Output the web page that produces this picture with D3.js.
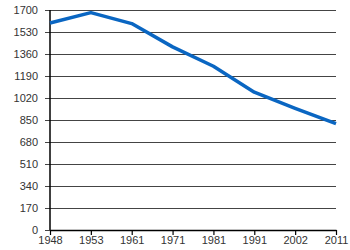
<!DOCTYPE html>
<meta charset="utf-8">
<style>
body {
  margin: 0;
  background: #fff;
}
svg {
  display: block;
}
.axis text {
  fill: #333;
  font-family: "Liberation Sans", Arial, sans-serif;
  font-size: 11px;
}
.line {
  fill: none;
  stroke: #0a66c2;
  stroke-width: 3.5px;
  stroke-linejoin: round;
}
</style>
<body>
<script src="https://d3js.org/d3.v7.min.js"></script>
<script>
var years = ["1948", "1953", "1961", "1971", "1981", "1991", "2002", "2011"];
var values = [1600, 1680, 1595, 1415, 1265, 1065, 940, 822];
var yTicks = [0, 170, 340, 510, 680, 850, 1020, 1190, 1360, 1530, 1700];

var width = 350,
    height = 250,
    margin = {top: 10, right: 14, bottom: 20, left: 50};

var svg = d3.select("body").append("svg")
    .attr("width", width)
    .attr("height", height);

var x = d3.scalePoint()
    .domain(years)
    .range([margin.left, width - margin.right]);

var y = d3.scaleLinear()
    .domain([0, 1700])
    .range([height - margin.bottom, margin.top]);

// gridlines + y labels
var yAxis = svg.append("g")
    .attr("class", "axis")
    .attr("transform", "translate(" + margin.left + ",0)")
    .call(d3.axisLeft(y)
      .tickValues(yTicks)
      .tickFormat(d3.format("d"))
      .tickSize(-(width - margin.right - margin.left))
      .tickSizeOuter(0)
      .tickPadding(12));
yAxis.select(".domain").remove();
yAxis.selectAll(".tick line")
    .attr("x1", -5)
    .attr("stroke", "#444");

// y axis line
svg.append("line")
    .attr("x1", margin.left).attr("x2", margin.left)
    .attr("y1", y(1700)).attr("y2", y(0))
    .attr("stroke", "#000")
    .attr("stroke-width", 1.5);

// x axis
var xAxis = svg.append("g")
    .attr("class", "axis")
    .attr("transform", "translate(0," + y(0) + ")")
    .call(d3.axisBottom(x).tickSize(5).tickSizeOuter(0).tickPadding(1));
xAxis.select(".domain").attr("stroke", "#000").attr("stroke-width", 1.5);
xAxis.selectAll(".tick line").attr("stroke", "#000").attr("stroke-width", 1.2);

var line = d3.line()
    .x(function(d, i) { return x(years[i]); })
    .y(function(d) { return y(d); });

svg.append("path")
    .datum(values)
    .attr("class", "line")
    .attr("d", line);
</script>
